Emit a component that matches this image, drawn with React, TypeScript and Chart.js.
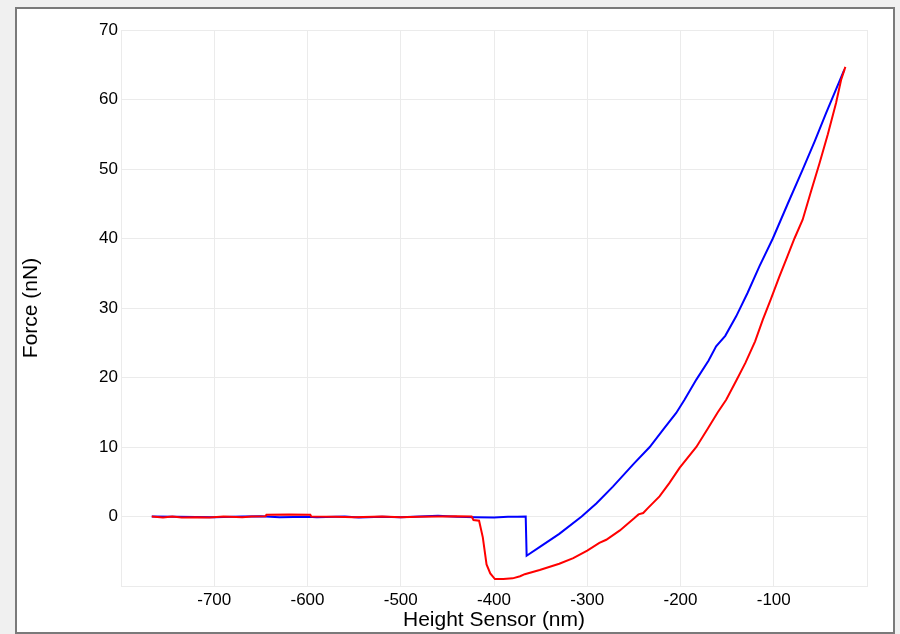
import React, { useEffect, useRef } from 'react';
import { Chart, registerables } from 'chart.js';

Chart.register(...registerables);

// Height sensor (nm) / force (nN) readings, extend curve (blue)
const blueX = [
  -767, -740, -700, -670, -650, -630, -600, -590, -560, -545, -520, -500, -480,
  -460, -440, -420, -400, -385, -375, -366,
  -365, -350, -330, -306, -290, -272.5, -250, -233, -218, -204.6, -195.7,
  -183, -170, -161.8, -152, -140.3, -128, -115.4, -101, -85, -69, -56, -44, -34, -24.3,
];
const blueY = [
  0, -0.05, -0.1, 0, 0.05, -0.1, -0.05, -0.1, 0, -0.15, -0.05, -0.1, 0,
  0.1, -0.05, -0.1, -0.15, -0.05, -0.05, 0,
  -5.65, -4.3, -2.5, 0, 1.9, 4.3, 7.6, 10, 12.6, 14.9, 16.8,
  19.7, 22.4, 24.5, 26.0, 28.8, 32.2, 36, 40, 45, 49.9, 54.0, 58, 61.2, 64.3,
];

// Retract curve (red)
const redX = [
  -767, -755, -745, -735, -720, -705, -690, -670, -660, -645, -644, -620, -597,
  -596, -570, -550, -520, -500, -480, -460, -440, -424,
  -422, -416, -412, -408, -404, -399, -390, -380, -372, -367, -351, -330, -315,
  -300, -287, -279.6, -265, -250, -245, -240, -235, -222.5, -212, -201, -183,
  -170, -160, -151, -140, -130.4, -120, -111.8, -103, -94, -86, -77.8, -69,
  -60, -51, -42, -33.2, -27.8, -23.2,
];
const redY = [
  0, -0.15, 0, -0.15, -0.1, -0.15, 0, -0.1, 0, 0.05, 0.25, 0.3, 0.25,
  0, -0.05, -0.1, 0, -0.1, -0.05, 0, 0.05, 0,
  -0.5, -0.6, -3, -6.9, -8.2, -9.0, -9.0, -8.9, -8.6, -8.3, -7.7, -6.8, -6.0,
  -4.9, -3.8, -3.35, -2.0, -0.3, 0.3, 0.5, 1.2, 2.9, 4.8, 7.0, 10,
  12.8, 15.0, 16.8, 19.6, 22.1, 25.2, 28.3, 31.3, 34.5, 37.2, 40, 42.7,
  46.8, 50.8, 55.0, 59.5, 62.8, 64.7,
];

const xMin = -800;
const xMax = 0;
const xStep = 100;
const yMin = -10;
const yMax = 70;
const yStep = 10;

const xTitle = 'Height Sensor (nm)';
const yTitle = 'Force (nN)';

const FONT = '"Liberation Sans", Arial, sans-serif';
const GRID = '#ebebeb';
const TEXT = '#000000';

export default function App() {
  const ref = useRef<HTMLCanvasElement>(null);

  useEffect(() => {
    const canvas = ref.current;
    if (!canvas) return;
    const chart = new Chart(canvas, {
      type: 'scatter',
      data: {
        datasets: [
          {
            label: 'Retract',
            data: redX.map((x, i) => ({ x, y: redY[i] })),
            borderColor: '#ff0000',
            backgroundColor: '#ff0000',
            showLine: true,
            pointRadius: 0,
            borderWidth: 2,
            tension: 0,
            fill: false,
          },
          {
            label: 'Extend',
            data: blueX.map((x, i) => ({ x, y: blueY[i] })),
            borderColor: '#0000ff',
            backgroundColor: '#0000ff',
            showLine: true,
            pointRadius: 0,
            borderWidth: 2,
            tension: 0,
            fill: false,
          },
        ],
      },
      options: {
        responsive: false,
        animation: false,
        devicePixelRatio: 1,
        layout: { padding: { left: 0, top: 30, right: 33, bottom: 0 } },
        plugins: { legend: { display: false }, tooltip: { enabled: false } },
        scales: {
          x: {
            type: 'linear',
            min: xMin,
            max: xMax,
            ticks: {
              stepSize: xStep,
              autoSkip: false,
              maxRotation: 0,
              padding: 4,
              color: TEXT,
              font: { family: FONT, size: 17 },
              callback: (v: any) => (v === xMin || v === xMax ? '' : String(v)),
            },
            grid: { color: GRID, drawTicks: false, lineWidth: 1 },
            border: { color: GRID },
            title: {
              display: true,
              text: xTitle,
              color: TEXT,
              font: { family: FONT, size: 21 },
              padding: { top: 0, bottom: 1 },
            },
            afterFit: (s: any) => {
              s.height = 48;
            },
          },
          y: {
            type: 'linear',
            min: yMin,
            max: yMax,
            ticks: {
              stepSize: yStep,
              autoSkip: false,
              padding: 3,
              color: TEXT,
              font: { family: FONT, size: 17 },
              callback: (v: any) => (v === yMin ? '' : String(v)),
            },
            grid: { color: GRID, drawTicks: false, lineWidth: 1 },
            border: { color: GRID },
            title: {
              display: true,
              text: yTitle,
              color: TEXT,
              font: { family: FONT, size: 21 },
              padding: { top: 19, bottom: 0 },
            },
            afterFit: (s: any) => {
              s.width = 121;
            },
          },
        },
      },
    });
    return () => chart.destroy();
  }, []);

  return (
    <div
      style={{
        position: 'fixed',
        left: 0,
        top: 0,
        width: 900,
        height: 634,
        background: '#f0f0f0',
        overflow: 'hidden',
      }}
    >
      <div
        style={{
          position: 'absolute',
          left: 15,
          top: 7,
          width: 880,
          height: 627,
          boxSizing: 'border-box',
          border: '2px solid #7a7a7a',
          background: '#ffffff',
        }}
      />
      <canvas
        ref={ref}
        width={900}
        height={634}
        style={{ position: 'absolute', left: 0, top: 0, width: 900, height: 634 }}
      />
    </div>
  );
}
